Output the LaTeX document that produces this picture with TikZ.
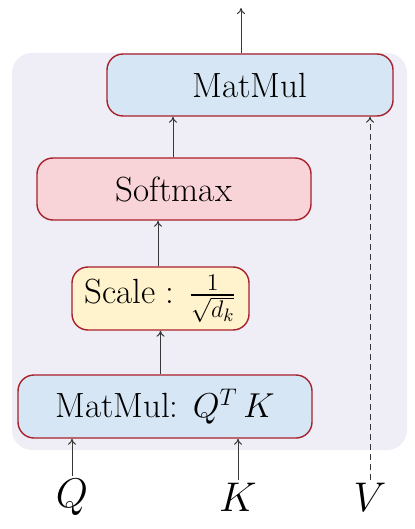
\documentclass[tikz,border=0pt]{standalone}
\usepackage{amsmath}
\usepackage{amssymb}
\usepackage{tikz}
\usetikzlibrary{
	arrows.meta,
	calc
}
\definecolor{PanelGray}{RGB}{239,237,245}
\definecolor{BoxRed}{RGB}{168,32,44}
\definecolor{SoftBlue}{RGB}{214,230,244}
\definecolor{SoftRed}{RGB}{248,211,215}
\definecolor{SoftYellow}{RGB}{255,243,205}
\definecolor{ArrowGray}{RGB}{55,55,55}

\tikzset{
	opbox/.style={
		draw=BoxRed,
		line width=0.7pt,
		rounded corners=8pt,
		inner sep=0pt,
		font=\fontsize{17.5}{21}\selectfont
	},
	flowarrow/.style={
		-{To[length=3pt,width=4pt]},
		line width=0.5pt,
		ArrowGray
	},
	inlabel/.style={
		font=\fontsize{21}{25}\selectfont,
		inner sep=1pt
	}
}

\begin{document}
\begin{tikzpicture}[x=0.5pt,y=-0.5pt]
				
				\useasboundingbox (0,0) rectangle (414,529);
				
				% panel behind the blocks
				\fill[
				PanelGray,
				rounded corners=10pt
				] (12,53) rectangle (407,450);
				
				\node[
				opbox,
				fill=SoftBlue,
				minimum width=143pt,
				minimum height=31pt
				] (mm) at (250,85) {MatMul};
				
				\node[
				opbox,
				fill=SoftRed,
				minimum width=137pt,
				minimum height=31pt
				] (sm) at (174,189) {Softmax};
				
				\node[
				opbox,
				fill=SoftYellow,
				minimum width=88.5pt,
				minimum height=31.5pt
				] (sc) at (160.5,298.5) {Scale : $\frac{1}{\sqrt{d_k}}$};
				
				\node[
				opbox,
				fill=SoftBlue,
				minimum width=147pt,
				minimum height=31.5pt
				] (qk) at (165,406.5) {MatMul: $Q^T\,K$};
				
				\node[inlabel] (Q) at (72,497) {$Q$};
				\node[inlabel] (K) at (238,497) {$K$};
				\node[inlabel] (V) at (370,497) {$V$};
				
				\coordinate (out) at (241,8);
				
				\draw[flowarrow] (Q) -- (Q |- qk.south);
				\draw[flowarrow] (K) -- (K |- qk.south);
				\draw[flowarrow, dashed, dash pattern=on 3pt off 2pt] (V) -- (V |- mm.south);
				
				\draw[flowarrow] (qk.north -| sc.south) -- (sc.south);
				\draw[flowarrow] (sc.north -| 158,0) -- (sm.south -| 158,0);
				\draw[flowarrow] (sm.north -| 173,0) -- (mm.south -| 173,0);
				\draw[flowarrow] (mm.north -| out) -- (out);
				
\end{tikzpicture}
\end{document}
